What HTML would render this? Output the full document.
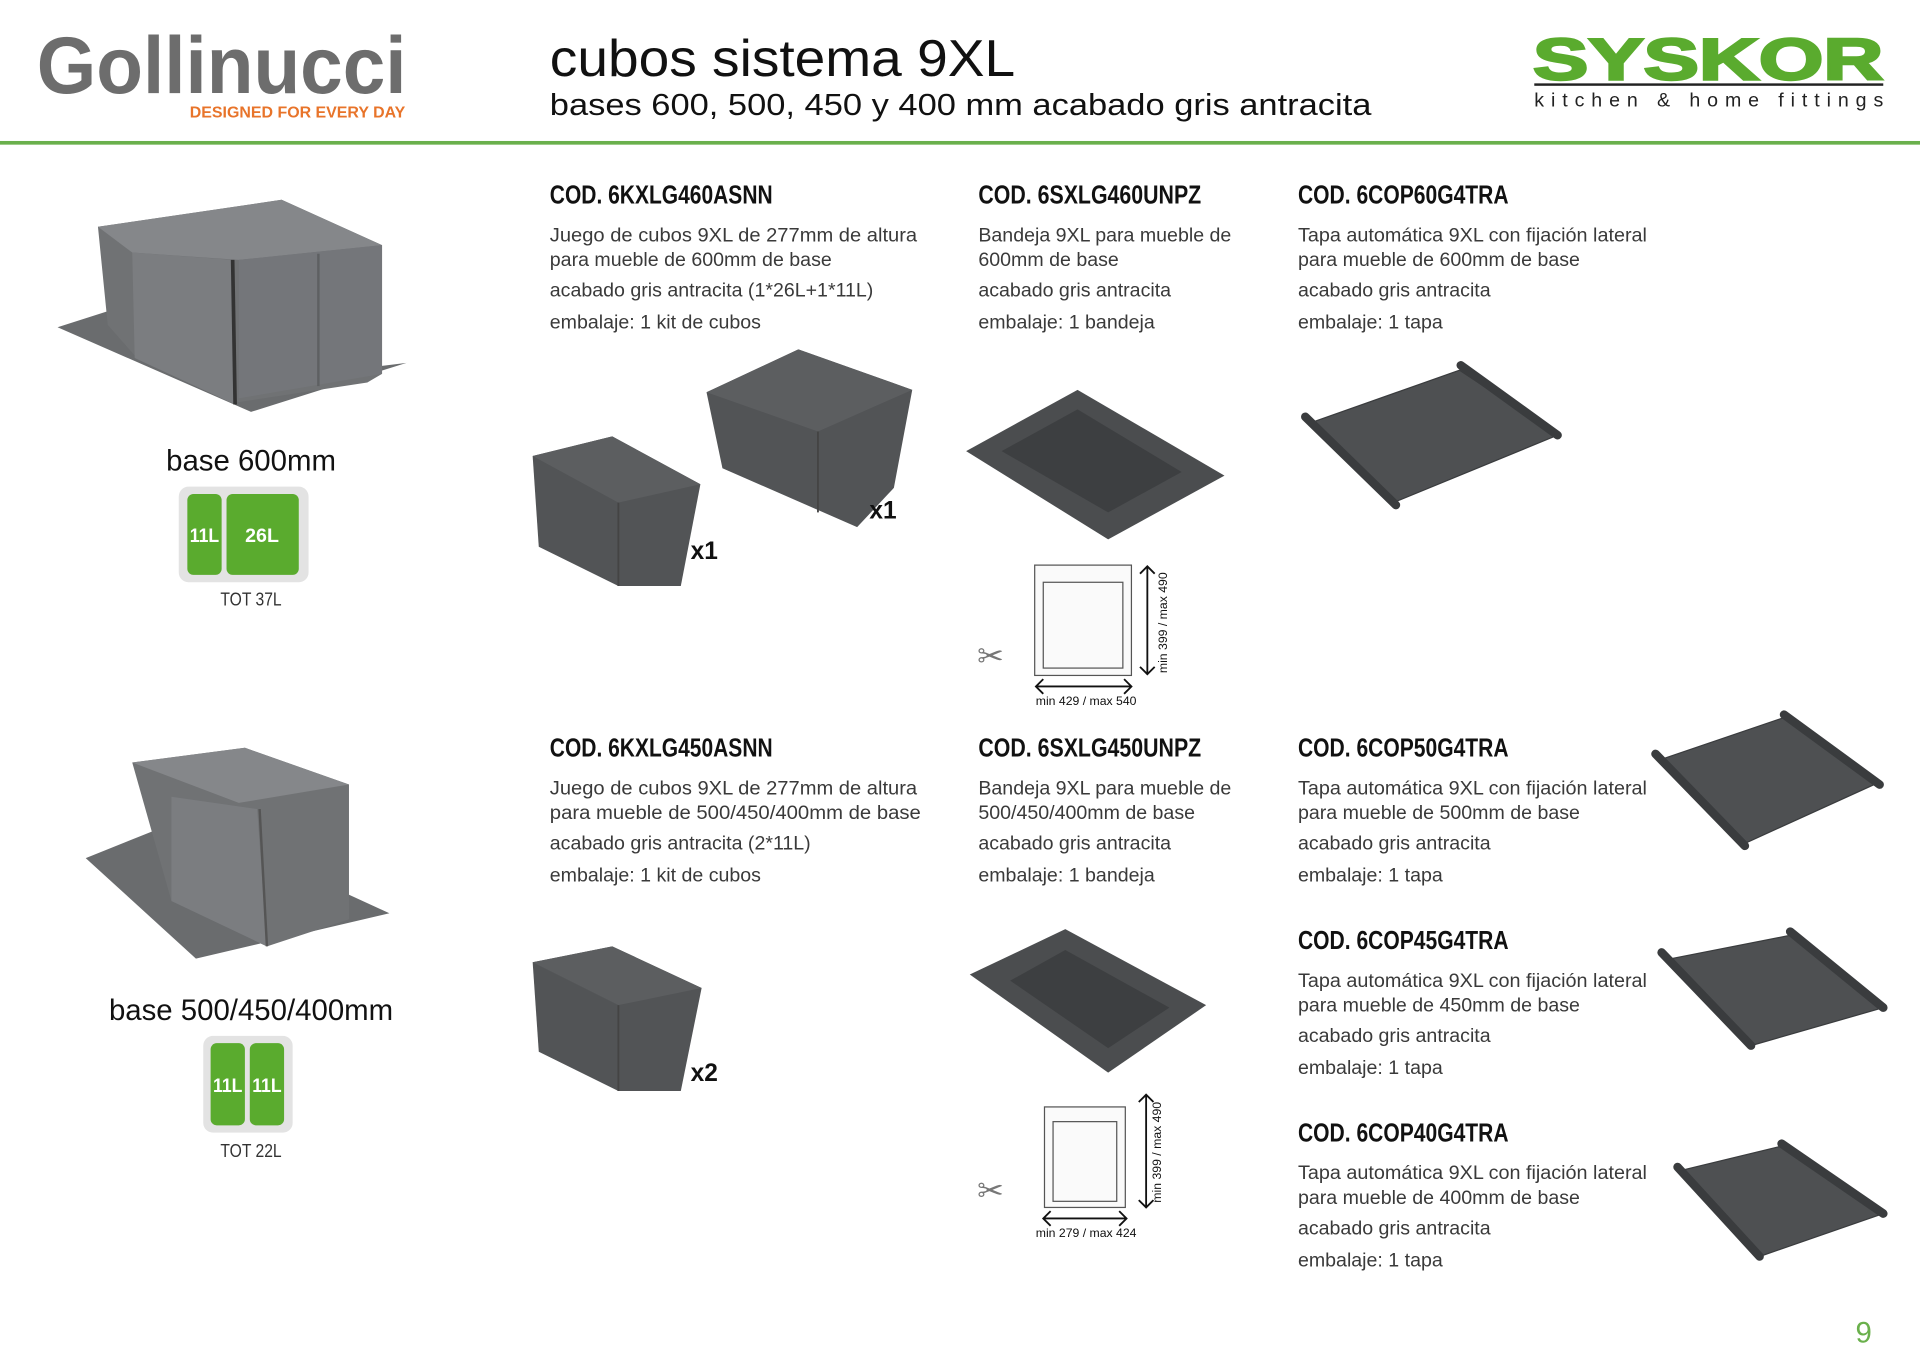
<!DOCTYPE html>
<html><head><meta charset="utf-8"><style>
html,body{margin:0;padding:0;background:#fff;}
svg{display:block;}
text{font-family:"Liberation Sans",sans-serif;}
.b{font-size:16px;fill:#3a3a3a;}
.h{font-size:21px;font-weight:bold;fill:#111;}
</style></head><body>
<svg width="1920" height="1357" viewBox="0 0 1568 1107" preserveAspectRatio="none" xmlns="http://www.w3.org/2000/svg">
<rect width="1568" height="1107" fill="#fff"/>
<!-- header -->
<text x="30" y="76" font-size="66" font-weight="bold" fill="#6d6d6d" textLength="302" lengthAdjust="spacingAndGlyphs">Gollinucci</text>
<text x="155" y="96" font-size="13" font-weight="bold" fill="#e8742a" textLength="176" lengthAdjust="spacingAndGlyphs">DESIGNED FOR EVERY DAY</text>
<text x="449" y="62" font-size="42" fill="#111" textLength="380" lengthAdjust="spacingAndGlyphs">cubos sistema 9XL</text>
<text x="449" y="94" font-size="25" fill="#111" textLength="671" lengthAdjust="spacingAndGlyphs">bases 600, 500, 450 y 400 mm acabado gris antracita</text>
<text x="1252" y="65" font-size="48" font-weight="900" fill="#5aab2e" textLength="286" lengthAdjust="spacingAndGlyphs" stroke="#5aab2e" stroke-width="2">SYSKOR</text>
<rect x="1253" y="68" width="285" height="2" fill="#222"/>
<text x="1253" y="87" font-size="16" fill="#222" textLength="285" lengthAdjust="spacing">kitchen &amp; home fittings</text>
<rect x="0" y="115" width="1568" height="3" fill="#6ab04c"/>

<!-- base 600 image -->
<g>
<polygon points="47,267 100,250 300,300 332,296 205,336" fill="#6a6c6e"/>
<polygon points="80,185 230,163 312,200 312,305 300,312 195,328 110,290 88,265" fill="#707274"/>
<polygon points="80,185 230,163 312,200 195,212 108,206" fill="#85878a"/>
<polygon points="108,206 190,212 192,330 110,292" fill="#7b7d80"/>
<polygon points="195,212 312,200 312,305 195,325" fill="#74767a"/>
<line x1="260" y1="207" x2="260" y2="315" stroke="#5e6062" stroke-width="2"/>
<line x1="190" y1="212" x2="192" y2="330" stroke="#333" stroke-width="3"/>
</g>
<text x="205" y="384" font-size="24" fill="#111" text-anchor="middle">base 600mm</text>
<rect x="146" y="397" width="106" height="78" rx="8" fill="#e3e3e3"/>
<rect x="153" y="403" width="28" height="66" rx="5" fill="#5aab2e"/>
<rect x="185" y="403" width="59" height="66" rx="5" fill="#5aab2e"/>
<text x="167" y="442" font-size="16" font-weight="bold" fill="#fff" text-anchor="middle" textLength="24" lengthAdjust="spacingAndGlyphs">11L</text>
<text x="214" y="442" font-size="16" font-weight="bold" fill="#fff" text-anchor="middle">26L</text>
<text x="205" y="494" font-size="15" fill="#333" text-anchor="middle" textLength="50" lengthAdjust="spacingAndGlyphs">TOT 37L</text>

<!-- base 500 image -->
<g>
<polygon points="70,700 150,668 318,745 160,782" fill="#6a6c6e"/>
<polygon points="108,622 200,610 285,640 285,750 218,772 140,735" fill="#707274"/>
<polygon points="108,622 200,610 285,640 195,655" fill="#85878a"/>
<polygon points="140,650 210,660 218,772 140,735" fill="#7b7d80"/>
<line x1="212" y1="660" x2="218" y2="772" stroke="#555" stroke-width="2"/>
</g>
<text x="205" y="832" font-size="24" fill="#111" text-anchor="middle">base 500/450/400mm</text>
<rect x="166" y="845" width="73" height="79" rx="8" fill="#e3e3e3"/>
<rect x="172" y="851" width="28" height="67" rx="5" fill="#5aab2e"/>
<rect x="204" y="851" width="28" height="67" rx="5" fill="#5aab2e"/>
<text x="186" y="891" font-size="16" font-weight="bold" fill="#fff" text-anchor="middle" textLength="24" lengthAdjust="spacingAndGlyphs">11L</text>
<text x="218" y="891" font-size="16" font-weight="bold" fill="#fff" text-anchor="middle" textLength="24" lengthAdjust="spacingAndGlyphs">11L</text>
<text x="205" y="944" font-size="15" fill="#333" text-anchor="middle" textLength="50" lengthAdjust="spacingAndGlyphs">TOT 22L</text>

<!-- column texts -->
<g>
<text class="h" x="449" y="166" textLength="182" lengthAdjust="spacingAndGlyphs">COD. 6KXLG460ASNN</text>
<text class="b" x="449" y="197" textLength="300" lengthAdjust="spacingAndGlyphs">Juego de cubos 9XL de 277mm de altura</text>
<text class="b" x="449" y="217">para mueble de 600mm de base</text>
<text class="b" x="449" y="242">acabado gris antracita (1*26L+1*11L)</text>
<text class="b" x="449" y="268">embalaje: 1 kit de cubos</text>

<text class="h" x="799" y="166" textLength="182" lengthAdjust="spacingAndGlyphs">COD. 6SXLG460UNPZ</text>
<text class="b" x="799" y="197">Bandeja 9XL para mueble de</text>
<text class="b" x="799" y="217">600mm de base</text>
<text class="b" x="799" y="242">acabado gris antracita</text>
<text class="b" x="799" y="268">embalaje: 1 bandeja</text>

<text class="h" x="1060" y="166" textLength="172" lengthAdjust="spacingAndGlyphs">COD. 6COP60G4TRA</text>
<text class="b" x="1060" y="197" textLength="285" lengthAdjust="spacingAndGlyphs">Tapa automática 9XL con fijación lateral</text>
<text class="b" x="1060" y="217">para mueble de 600mm de base</text>
<text class="b" x="1060" y="242">acabado gris antracita</text>
<text class="b" x="1060" y="268">embalaje: 1 tapa</text>

<text class="h" x="449" y="617" textLength="182" lengthAdjust="spacingAndGlyphs">COD. 6KXLG450ASNN</text>
<text class="b" x="449" y="648" textLength="300" lengthAdjust="spacingAndGlyphs">Juego de cubos 9XL de 277mm de altura</text>
<text class="b" x="449" y="668" textLength="303" lengthAdjust="spacingAndGlyphs">para mueble de 500/450/400mm de base</text>
<text class="b" x="449" y="693">acabado gris antracita (2*11L)</text>
<text class="b" x="449" y="719">embalaje: 1 kit de cubos</text>

<text class="h" x="799" y="617" textLength="182" lengthAdjust="spacingAndGlyphs">COD. 6SXLG450UNPZ</text>
<text class="b" x="799" y="648">Bandeja 9XL para mueble de</text>
<text class="b" x="799" y="668">500/450/400mm de base</text>
<text class="b" x="799" y="693">acabado gris antracita</text>
<text class="b" x="799" y="719">embalaje: 1 bandeja</text>

<text class="h" x="1060" y="617" textLength="172" lengthAdjust="spacingAndGlyphs">COD. 6COP50G4TRA</text>
<text class="b" x="1060" y="648" textLength="285" lengthAdjust="spacingAndGlyphs">Tapa automática 9XL con fijación lateral</text>
<text class="b" x="1060" y="668">para mueble de 500mm de base</text>
<text class="b" x="1060" y="693">acabado gris antracita</text>
<text class="b" x="1060" y="719">embalaje: 1 tapa</text>

<text class="h" x="1060" y="774" textLength="172" lengthAdjust="spacingAndGlyphs">COD. 6COP45G4TRA</text>
<text class="b" x="1060" y="805" textLength="285" lengthAdjust="spacingAndGlyphs">Tapa automática 9XL con fijación lateral</text>
<text class="b" x="1060" y="825">para mueble de 450mm de base</text>
<text class="b" x="1060" y="850">acabado gris antracita</text>
<text class="b" x="1060" y="876">embalaje: 1 tapa</text>

<text class="h" x="1060" y="931" textLength="172" lengthAdjust="spacingAndGlyphs">COD. 6COP40G4TRA</text>
<text class="b" x="1060" y="962" textLength="285" lengthAdjust="spacingAndGlyphs">Tapa automática 9XL con fijación lateral</text>
<text class="b" x="1060" y="982">para mueble de 400mm de base</text>
<text class="b" x="1060" y="1007">acabado gris antracita</text>
<text class="b" x="1060" y="1033">embalaje: 1 tapa</text>
</g>

<!-- bins 600 -->
<g fill="#525456">
<polygon points="435,372 500,356 572,395 556,478 505,478 440,446"/>
<polygon points="435,372 500,356 572,395 505,410" fill="#5c5e60"/>
<polygon points="577,320 652,285 745,318 730,398 700,430 590,382"/>
<polygon points="577,320 652,285 745,318 668,352" fill="#5c5e60"/>
</g>
<line x1="505" y1="410" x2="505" y2="478" stroke="#444" stroke-width="1.5"/>
<line x1="668" y1="352" x2="668" y2="418" stroke="#444" stroke-width="1.5"/>
<text x="564" y="456" font-size="20" font-weight="bold" fill="#111">x1</text>
<text x="710" y="423" font-size="20" font-weight="bold" fill="#111">x1</text>
<!-- bin 500 -->
<polygon points="435,785 500,772 573,806 556,890 505,890 440,858" fill="#525456"/>
<polygon points="435,785 500,772 573,806 505,820" fill="#5c5e60"/>
<line x1="505" y1="820" x2="505" y2="890" stroke="#444" stroke-width="1.5"/>
<text x="564" y="882" font-size="20" font-weight="bold" fill="#111">x2</text>

<!-- trays -->
<polygon points="789,368 880,318 1000,388 905,440" fill="#4b4d4f"/>
<polygon points="818,368 880,334 965,385 905,418" fill="#3d3f41"/>
<polygon points="792,795 870,758 985,820 905,875" fill="#4b4d4f"/>
<polygon points="825,800 870,775 955,822 905,855" fill="#3d3f41"/>

<!-- dimension drawings -->
<g fill="none" stroke="#555" stroke-width="1">
<rect x="845" y="461" width="79" height="90" fill="#fafafa"/>
<rect x="852" y="475" width="65" height="70"/>
<rect x="853" y="903" width="66" height="82" fill="#fafafa"/>
<rect x="860" y="915" width="52" height="65"/>
</g>
<g stroke="#111" stroke-width="1.5" fill="none">
<line x1="846" y1="560" x2="924" y2="560"/><polyline points="852,554 846,560 852,566"/><polyline points="918,554 924,560 918,566"/>
<line x1="937" y1="462" x2="937" y2="550"/><polyline points="931,468 937,462 943,468"/><polyline points="931,544 937,550 943,544"/>
<line x1="852" y1="994" x2="920" y2="994"/><polyline points="858,988 852,994 858,1000"/><polyline points="914,988 920,994 914,1000"/>
<line x1="936" y1="893" x2="936" y2="985"/><polyline points="930,899 936,893 942,899"/><polyline points="930,979 936,985 942,979"/>
</g>
<text x="887" y="575" font-size="10" fill="#111" text-anchor="middle">min 429 / max 540</text>
<text x="887" y="1009" font-size="10" fill="#111" text-anchor="middle">min 279 / max 424</text>
<text transform="translate(953,508) rotate(-90)" font-size="10" fill="#111" text-anchor="middle">min 399 / max 490</text>
<text transform="translate(948,940) rotate(-90)" font-size="10" fill="#111" text-anchor="middle">min 399 / max 490</text>
<text x="798" y="544" font-size="26" fill="#777">✂</text>
<text x="798" y="980" font-size="26" fill="#777">✂</text>

<!-- lids -->
<g fill="#4e5052" stroke="#3a3c3e" stroke-linecap="round">
<polygon points="1070,345 1192,302 1272,355 1138,410" stroke-width="1"/>
<line x1="1066" y1="340" x2="1140" y2="412" stroke-width="7"/>
<line x1="1193" y1="298" x2="1272" y2="355" stroke-width="7"/>
<polygon points="1355,620 1458,585 1535,638 1425,688" stroke-width="1"/>
<line x1="1352" y1="615" x2="1425" y2="690" stroke-width="7"/>
<line x1="1457" y1="583" x2="1535" y2="640" stroke-width="7"/>
<polygon points="1360,783 1462,763 1538,822 1430,853" stroke-width="1"/>
<line x1="1357" y1="777" x2="1430" y2="853" stroke-width="7"/>
<line x1="1462" y1="760" x2="1538" y2="822" stroke-width="7"/>
<polygon points="1372,955 1455,935 1538,990 1437,1025" stroke-width="1"/>
<line x1="1370" y1="952" x2="1437" y2="1025" stroke-width="7"/>
<line x1="1455" y1="933" x2="1538" y2="990" stroke-width="7"/>
</g>

<text x="1522" y="1095" font-size="24" fill="#6ab04c" text-anchor="middle">9</text>
</svg>
</body></html>
